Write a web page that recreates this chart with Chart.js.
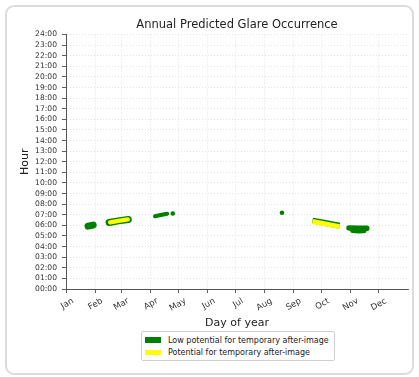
<!DOCTYPE html>
<html>
<head>
<meta charset="utf-8">
<script src="https://cdn.jsdelivr.net/npm/chart.js@4.4.1/dist/chart.umd.min.js"></script>
<style>
  html, body { margin: 0; padding: 0; background: #fff; }
  body { width: 419px; height: 377px; position: relative; overflow: hidden; font-family: "DejaVu Sans", sans-serif; }
  #card { position: absolute; left: 5px; top: 5px; width: 409px; height: 370px; box-sizing: border-box;
          border: 2px solid #dcdcdc; border-radius: 9px; }
  #wrap { position: absolute; left: 0; top: 0; width: 419px; height: 377px; }
  #legend { position: absolute; left: 141px; top: 331px; width: 194px; height: 30px; box-sizing: border-box;
            border: 1px solid #cfcfcf; border-radius: 2px; background: #fff; font-size: 8px; color: #222; }
  .row { position: absolute; left: 3px; height: 10px; display: flex; align-items: center; white-space: nowrap; }
  .sw { width: 16px; height: 5.5px; margin-right: 7px; }
</style>
</head>
<body>
<div id="card"></div>
<div id="wrap"><canvas id="c" width="419" height="377"></canvas></div>
<div id="legend">
  <div class="row" style="top:3px"><span class="sw" style="background:#008000"></span><span>Low potential for temporary after-image</span></div>
  <div class="row" style="top:15.5px"><span class="sw" style="background:#ffff00"></span><span>Potential for temporary after-image</span></div>
</div>
<script>
// ---- data (day of year, hour of day) ----
const monthLabels = ["Jan","Feb","Mar","Apr","May","Jun","Jul","Aug","Sep","Oct","Nov","Dec"];
const monthStartDays = [0,31,59,90,120,151,181,212,243,273,304,334];
const hourTicks = [0,1,2,3,4,5,6,7,8,9,10,11,12,13,14,15,16,17,18,19,20,21,22,23,24];

// low potential (green) glare streaks
const lowJan     = [[23.5,5.93],[29,6.03]];
const lowFebMar  = [[46,6.27],[56,6.42],[66.5,6.56]];
const lowApr     = [[95,6.86],[101,6.98],[108,7.1]];
const lowAprDot  = [[114,7.12]];
const lowAugDot  = [[230.5,7.19]];
const lowSepOct  = [[263,6.45],[277,6.22],[292,5.96]];
const lowNovTop  = [[302,5.76],[312,5.74],[321,5.72]];
const lowNovBot  = [[306,5.52],[312,5.47],[318,5.5]];

// potential (yellow) glare streaks
const potFebMar  = [[47,6.28],[56,6.42],[66,6.56]];
const potSepOct  = [[263,6.37],[277,6.14],[292,5.88]];

const toPts = a => a.map(p => ({x: p[0], y: p[1]}));
const GREEN = "#008000", YELLOW = "#ffff00";

function streak(data, color, width, order) {
  return { data: toPts(data), showLine: true, borderColor: color, borderWidth: width,
           borderCapStyle: "round", borderJoinStyle: "round", pointRadius: 0, pointHoverRadius: 0,
           order: order, tension: 0 };
}
function dot(data, color, r, order) {
  return { data: toPts(data), showLine: false, backgroundColor: color, borderWidth: 0,
           pointRadius: r, order: order };
}

const font = "'DejaVu Sans', sans-serif";
const dash = [1, 2];

new Chart(document.getElementById("c"), {
  type: "scatter",
  data: {
    datasets: [
      streak(lowJan, GREEN, 7, 2),
      streak(lowFebMar, GREEN, 7, 2),
      streak(lowApr, GREEN, 4, 2),
      dot(lowAprDot, GREEN, 2.3, 2),
      dot(lowAugDot, GREEN, 2.3, 2),
      Object.assign(streak(lowSepOct, GREEN, 6, 2), {borderCapStyle: "butt"}),
      streak(lowNovTop, GREEN, 5.5, 2),
      streak(lowNovBot, GREEN, 5, 2),
      streak(potFebMar, YELLOW, 4.2, 1),
      Object.assign(streak(potSepOct, YELLOW, 5, 1), {borderCapStyle: "butt"})
    ]
  },
  options: {
    responsive: false,
    animation: false,
    events: [],
    layout: { autoPadding: false, padding: { left: 0, right: 11, top: 0, bottom: 44 } },
    plugins: {
      legend: { display: false },
      tooltip: { enabled: false },
      title: { display: true, text: "Annual Predicted Glare Occurrence", fullSize: false,
               color: "#222", font: { family: font, size: 11.5, weight: "normal" },
               padding: { top: 18.2, bottom: 2.5 } }
    },
    scales: {
      x: {
        type: "linear", min: 0, max: 365,
        afterBuildTicks: s => { s.ticks = monthStartDays.map(v => ({ value: v })); },
        afterFit: s => { s.height = 44; },
        ticks: { autoSkip: false, maxRotation: 30, minRotation: 30, padding: 3, labelOffset: 7,
                 color: "#333", font: { family: font, size: 8.5 },
                 callback: (v) => { const i = monthStartDays.indexOf(v); return i >= 0 ? monthLabels[i] : ""; } },
        grid: { color: "#d9d9d9", lineWidth: 0.8, tickColor: "#333", tickLength: 4, tickBorderDash: [] },
        border: { display: true, color: "#555", width: 1, dash: dash },
        title: { display: true, text: "Day of year", color: "#222", font: { family: font, size: 11 },
                 padding: { top: 0, bottom: 3 } }
      },
      y: {
        type: "linear", min: 0, max: 24,
        afterBuildTicks: s => { s.ticks = hourTicks.map(v => ({ value: v })); },
        afterFit: s => { s.width = 66; },
        ticks: { autoSkip: false, padding: 5, color: "#333", font: { family: font, size: 7.6 },
                 callback: v => String(v).padStart(2, "0") + ":00" },
        grid: { color: "#d9d9d9", lineWidth: 0.8, tickColor: "#333", tickLength: 4, tickBorderDash: [] },
        border: { display: true, color: "#555", width: 1, dash: dash },
        title: { display: true, text: "Hour", color: "#222", font: { family: font, size: 11 },
                 padding: { top: 19, bottom: 0 } }
      }
    }
  }
});
</script>
</body>
</html>
